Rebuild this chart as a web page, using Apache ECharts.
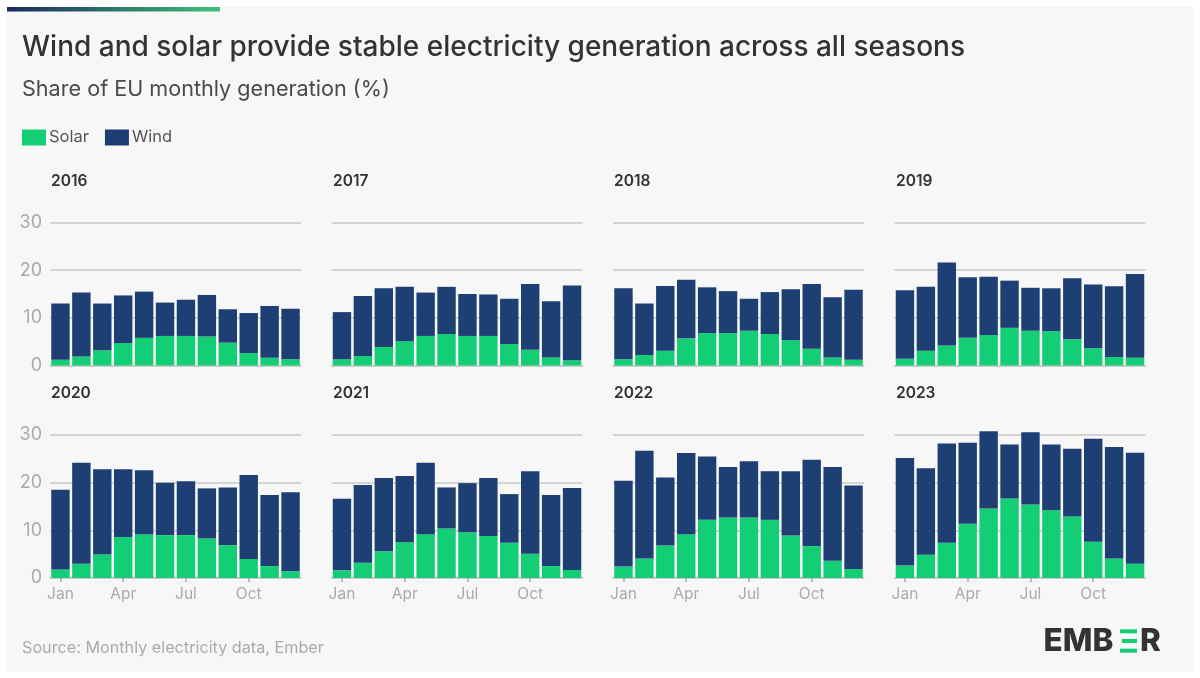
<!DOCTYPE html>
<html>
<head>
<meta charset="utf-8">
<title>Wind and solar</title>
<script src="https://cdn.jsdelivr.net/npm/echarts@6/dist/echarts.min.js"></script>
<style>
html, body { margin: 0; padding: 0; background: #fff; }
#chart { width: 1200px; height: 678px; }
</style>
</head>
<body>
<div id="chart"></div>
<script>
var months = ['Jan','Feb','Mar','Apr','May','Jun','Jul','Aug','Sep','Oct','Nov','Dec'];
var years = ['2016','2017','2018','2019','2020','2021','2022','2023'];
var yTicks = [0, 10, 20, 30];

var solar2016 = [1.2,1.9,3.2,4.7,5.8,6.2,6.2,6.1,4.8,2.6,1.6,1.3];
var wind2016 = [11.8,13.4,9.8,10,9.7,7,7.6,8.7,7,8.4,10.9,10.6];
var solar2017 = [1.3,2,3.9,5.1,6.2,6.6,6.2,6.2,4.5,3.3,1.7,1.1];
var wind2017 = [9.9,12.6,12.3,11.4,9.1,9.9,8.8,8.7,9.5,13.8,11.8,15.7];
var solar2018 = [1.3,2.2,3.1,5.7,6.8,6.8,7.3,6.6,5.3,3.5,1.7,1.2];
var wind2018 = [14.9,10.8,13.6,12.3,9.6,8.8,6.7,8.8,10.7,13.6,12.6,14.7];
var solar2019 = [1.4,3.1,4.2,5.8,6.4,7.9,7.3,7.2,5.5,3.6,1.8,1.6];
var wind2019 = [14.4,13.4,17.4,12.7,12.2,9.9,9,9,12.8,13.4,14.8,17.6];
var solar2020 = [1.8,3,5,8.6,9.2,9,9,8.3,6.9,4,2.5,1.4];
var wind2020 = [16.7,21.2,17.8,14.2,13.4,11,11.3,10.5,12.1,17.6,14.9,16.6];
var solar2021 = [1.6,3.2,5.6,7.5,9.2,10.4,9.6,8.8,7.4,5.1,2.5,1.7];
var wind2021 = [15,16.3,15.4,13.9,15,8.6,10.3,12.2,10.2,17.3,14.9,17.2];
var solar2022 = [2.4,4.1,6.8,9.2,12.2,12.7,12.7,12.2,8.9,6.7,3.6,1.9];
var wind2022 = [18,22.6,14.3,17,13.3,10.6,11.8,10.2,13.5,18.1,19.7,17.5];
var solar2023 = [2.6,4.9,7.4,11.4,14.6,16.7,15.4,14.2,12.9,7.6,4.1,3];
var wind2023 = [22.6,18.1,20.8,17,16.2,11.3,15.2,13.8,14.2,21.6,23.4,23.3];

var solarByYear = [solar2016, solar2017, solar2018, solar2019, solar2020, solar2021, solar2022, solar2023];
var windByYear = [wind2016, wind2017, wind2018, wind2019, wind2020, wind2021, wind2022, wind2023];

var FONT = 'Inter, "Noto Sans", sans-serif';
var colLeft = [50, 331.5, 613, 894.5];
var yearLeft = [51, 333, 614, 896];
var rowTop = [222.5, 435];
var plotW = 251, plotH = 143;

var grids = [], xAxes = [], yAxes = [], series = [], titles = [];

titles.push({ text: 'Wind and solar provide stable electricity generation across all seasons', left: 22, top: 33.5, padding: 0,
    textStyle: { fontFamily: FONT, fontSize: 28, fontWeight: 500, color: '#333333' } });
titles.push({ text: 'Share of EU monthly generation (%)', left: 22, top: 78, padding: 0,
    textStyle: { fontFamily: FONT, fontSize: 21.6, fontWeight: 400, color: '#4a4a4a' } });
titles.push({ text: 'Source: Monthly electricity data, Ember', left: 22, top: 640, padding: 0,
    textStyle: { fontFamily: FONT, fontSize: 16.2, fontWeight: 400, color: '#aaaaaa' } });

years.forEach(function (year, i) {
    var col = i % 4, row = Math.floor(i / 4);
    var bottomRow = row === 1, firstCol = col === 0;

    grids.push({ left: colLeft[col], top: rowTop[row], width: plotW, height: plotH });

    xAxes.push({
        type: 'category', gridIndex: i, data: months,
        axisLine: { show: true, lineStyle: { color: '#c8c8c8', width: 1.5 } },
        axisTick: { show: bottomRow, alignWithLabel: true, interval: 2, length: 4, lineStyle: { color: '#aaaaaa', width: 1.5 } },
        axisLabel: { show: bottomRow, interval: 2, margin: 8, fontFamily: FONT, fontSize: 15.5, color: '#aaaaaa' }
    });

    yAxes.push({
        type: 'value', gridIndex: i, min: 0, max: 30, interval: 10,
        axisLine: { show: false }, axisTick: { show: false },
        splitLine: { lineStyle: { color: '#c8c8c8', width: 1.5 } },
        axisLabel: { show: firstCol, margin: 8, padding: [2, 0, 0, 0], fontFamily: FONT, fontSize: 18, color: '#aaaaaa',
            formatter: function (v) { return yTicks.indexOf(v) >= 0 ? String(v) : ''; } }
    });

    // clip off: 2023 goes above the 30 line
    series.push({ name: 'Solar', type: 'bar', stack: year, clip: false, xAxisIndex: i, yAxisIndex: i, barWidth: '88%',
        itemStyle: { color: '#13ce74' }, data: solarByYear[i] });
    series.push({ name: 'Wind', type: 'bar', stack: year, clip: false, xAxisIndex: i, yAxisIndex: i, barWidth: '88%',
        itemStyle: { color: '#1e3f73' }, data: windByYear[i] });

    titles.push({ text: year, left: yearLeft[col], top: rowTop[row] - 49.5, padding: 0,
        textStyle: { fontFamily: FONT, fontSize: 15.5, fontWeight: 600, color: '#333333' } });
});

var option = {
    animation: false,
    backgroundColor: '#ffffff',
    title: titles,
    legend: {
        left: 22, top: 129, padding: 0, itemWidth: 24, itemHeight: 16, itemGap: 16, icon: 'rect',
        data: ['Solar', 'Wind'],
        textStyle: { fontFamily: FONT, fontSize: 16.5, color: '#555555', padding: [0, 0, 0, -2] }
    },
    grid: grids,
    xAxis: xAxes,
    yAxis: yAxes,
    series: series,
    graphic: [
        { type: 'rect', z: -10, silent: true, shape: { x: 7, y: 7, width: 1186, height: 665 }, style: { fill: '#f7f7f7' } },
        { type: 'rect', z: 1, silent: true, shape: { x: 7, y: 7, width: 213, height: 4.5 },
            style: { fill: new echarts.graphic.LinearGradient(0, 0, 1, 0, [
                { offset: 0, color: '#1b2a5c' }, { offset: 1, color: '#3fc07a' }]) } },
        // logo: EMB + three green bars + R
        { type: 'text', z: 1, left: 1043.5, top: 626, style: { text: 'EMB', fontFamily: FONT, fontSize: 31.5, fontWeight: 800, fill: '#333333' } },
        { type: 'rect', z: 1, shape: { x: 1120, y: 629.3, width: 17, height: 4 }, style: { fill: '#13ce74' } },
        { type: 'rect', z: 1, shape: { x: 1122, y: 639, width: 15, height: 4 }, style: { fill: '#13ce74' } },
        { type: 'rect', z: 1, shape: { x: 1120, y: 648.7, width: 17, height: 4 }, style: { fill: '#13ce74' } },
        { type: 'text', z: 1, left: 1140, top: 626, style: { text: 'R', fontFamily: FONT, fontSize: 31.5, fontWeight: 800, fill: '#333333' } }
    ]
};

var myChart = echarts.init(document.getElementById('chart'), null, { renderer: 'canvas' });
myChart.setOption(option);
</script>
</body>
</html>
